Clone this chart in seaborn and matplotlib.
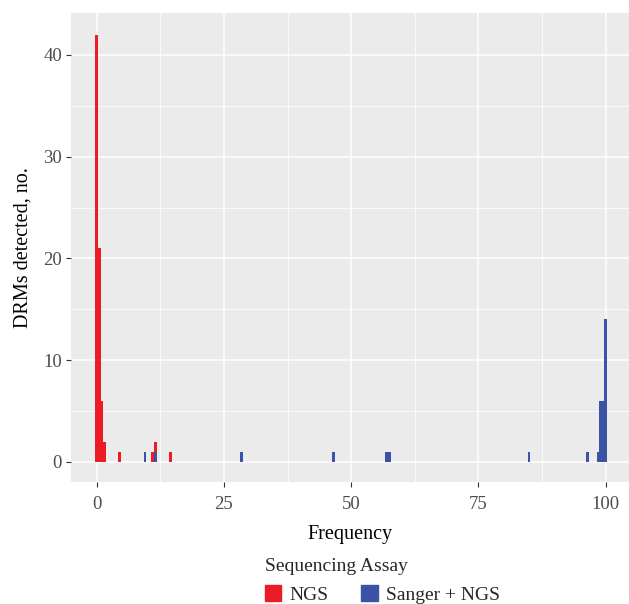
import numpy as np
import pandas as pd
import matplotlib.pyplot as plt
import seaborn as sns
from matplotlib.patches import Patch
from matplotlib.ticker import MultipleLocator

# bin centres (binwidth 0.5) and counts
ngs_freq = [0, 0.5, 1, 1.5, 4.5, 11, 11.5, 14.5]
ngs_count = [42, 21, 6, 2, 1, 1, 1, 1]
sanger_freq = [9.5, 11.5, 28.5, 46.5, 57, 57.5, 85, 96.5, 98.5, 99, 99.5, 100]
sanger_count = [1, 1, 1, 1, 1, 1, 1, 1, 1, 6, 6, 14]

assays = ["NGS", "Sanger + NGS"]
colors = ["#EC1C24", "#3A53A4"]

df = pd.DataFrame({
    "freq": ngs_freq + sanger_freq,
    "count": ngs_count + sanger_count,
    "assay": [assays[0]] * len(ngs_freq) + [assays[1]] * len(sanger_freq),
})

sns.set_theme(style="darkgrid")
plt.rcParams['font.family'] = ['Liberation Serif', 'DejaVu Serif']

fig = plt.figure(figsize=(6.29, 6.04), dpi=100)
ax = fig.add_axes([0.1129, 0.2025, 0.887, 0.7765])
ax.set_facecolor("#EBEBEB")

sns.histplot(data=df, x="freq", weights="count", hue="assay", hue_order=assays,
             palette=colors, multiple="stack", binwidth=0.5, binrange=(-0.25, 100.25),
             linewidth=0, alpha=1, ax=ax, legend=False)

ax.set_xlim(-5.06, 104.6)
ax.set_ylim(-1.95, 44.15)
ax.xaxis.set_major_locator(MultipleLocator(25))
ax.xaxis.set_minor_locator(MultipleLocator(12.5))
ax.yaxis.set_major_locator(MultipleLocator(10))
ax.yaxis.set_minor_locator(MultipleLocator(5))
ax.grid(which="major", color="white", linewidth=1.1)
ax.grid(which="minor", color="white", linewidth=0.55)
ax.set_axisbelow(True)
for s in ax.spines.values():
    s.set_visible(False)

ax.tick_params(which="major", length=3.5, width=0.8, color="#333333",
               labelcolor="#4D4D4D", labelsize=13.5, pad=3, bottom=True, left=True)
ax.tick_params(axis="x", which="major", pad=6.5)
ax.tick_params(which="minor", length=0)

ax.set_xlabel("Frequency", fontsize=14.5, color="black", labelpad=9)
ax.set_ylabel("DRMs detected, no.", fontsize=14.5, color="black", labelpad=8)

handles = [Patch(color=c, label=a) for a, c in zip(assays, colors)]
fig.legend(handles=handles, title="Sequencing Assay", ncol=2, loc="upper left",
           bbox_to_anchor=(0.399, 0.098), frameon=False, alignment="left",
           fontsize=14, title_fontsize=14, handlelength=0.85, handleheight=0.85,
           handletextpad=0.45, columnspacing=1.65, borderpad=0.2, labelspacing=0.5)

fig.savefig("out.png", dpi=100)
